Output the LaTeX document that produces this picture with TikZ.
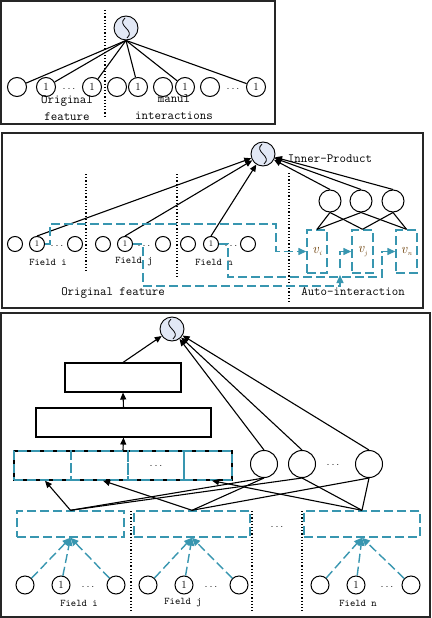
\documentclass[tikz,border=0pt]{standalone}
\usepackage{fontspec}
\usetikzlibrary{arrows.meta}
\definecolor{tealc}{RGB}{56,150,176}
\definecolor{outfill}{RGB}{226,232,245}
\definecolor{vcol}{RGB}{110,65,10}
\newcommand{\vlab}[1]{\textit{v}\raisebox{-2.5bp}{\fontsize{6.5}{7}\selectfont\textit{#1}}}
\tikzset{
  ln/.style={line width=1.1bp, draw=black},
  arr/.style={ln, -{Triangle[length=7bp,width=6bp]}},
  tdash/.style={draw=tealc, line width=1.4bp, dash pattern=on 9bp off 4bp},
  tarr/.style={tdash, -{Triangle[length=8bp,width=7bp]}},
  dotline/.style={line width=1.3bp, dash pattern=on 1.2bp off 2bp},
  panel/.style={line width=1.4bp, draw=black!85},
  cir/.style={circle, draw, line width=1bp, inner sep=0pt, minimum size=#1, font=\fontsize{11}{12}\rmfamily},
  scir/.style={circle, draw, line width=1bp, inner sep=0pt, minimum size=15bp, font=\fontsize{8.5}{9}\rmfamily},
  outnode/.style={circle, draw, fill=outfill, line width=0.9bp, inner sep=0pt, minimum size=24bp,
    path picture={\draw[line width=0.8bp] ([shift={(-1bp,10bp)}]path picture bounding box.center)
      .. controls +(-9bp,-8bp) and +(9bp,8bp) .. ([shift={(1bp,-10bp)}]path picture bounding box.center);}},
  lbl/.style={font=\fontsize{12.6}{13}\ttfamily, inner sep=0pt},
  flbl/.style={font=\fontsize{10.2}{11}\ttfamily, inner sep=0pt},
  dts/.style={font=\fontsize{11}{12}\rmfamily, inner sep=0pt},
  tbox/.style={draw=tealc, line width=1.4bp, dash pattern=on 9bp off 4bp, rectangle, inner sep=0pt},
  vbox/.style={tbox, minimum height=43bp, text=vcol, font=\fontsize{14}{15}\rmfamily},
  bbox/.style={draw=black, line width=1.1bp, rectangle, inner sep=0pt},
}
\begin{document}
\begin{tikzpicture}[x=1bp,y=-1bp]
\path[use as bounding box, fill=white] (0,0) rectangle (431,618);

% ---------------- Panel 1 ----------------
\draw[panel] (1,1) rectangle (275,124);
\draw[dotline] (105,10) -- (105,117);
\node[outnode] (o1) at (126,28) {};
\node[cir=19bp] (p1) at (17,87) {};
\node[cir=19bp] (p2) at (46,87) {1};
\node[dts] (pd1) at (69,89) {.\,.\,.};
\node[cir=19bp] (p3) at (92,87) {1};
\node[cir=19bp] (p4) at (117,87) {};
\node[cir=19bp] (p5) at (138,87) {1};
\node[cir=19bp] (p6) at (163,87) {};
\node[cir=19bp] (p7) at (185,87) {1};
\node[cir=19bp] (p8) at (210,87) {};
\node[dts] (pd2) at (233,89) {.\,.\,.};
\node[cir=19bp] (p9) at (256,87) {1};
\foreach \t in {p1,p2,p3,p5,p7,p9} \draw[ln] (o1.south) -- (\t);
\node[lbl] (t1a) at (67,101) {Original};
\node[lbl] (t1b) at (67,117) {feature};
\node[lbl] (t1c) at (174,99) {manul};
\node[lbl] (t1d) at (174,116) {interactions};

% ---------------- Panel 2 ----------------
\draw[panel] (2,133) rectangle (423,308);
\draw[dotline] (86,174) -- (86,273);
\draw[dotline] (177,174) -- (177,277);
\draw[dotline] (289,173) -- (289,302);
\node[outnode] (ip) at (263,154) {};
\node[lbl] (iplbl) at (330,159) {Inner-Product};
\node[scir] (q1) at (15,244) {};
\node[scir] (q2) at (37,244) {1};
\node[dts] (qd1) at (57,246) {.\,.\,.};
\node[scir] (q3) at (75,244) {};
\node[scir] (q4) at (103,244) {};
\node[scir] (q5) at (125,244) {1};
\node[dts] (qd2) at (144,246) {.\,.\,.};
\node[scir] (q6) at (163,244) {};
\node[scir] (q7) at (188,244) {};
\node[scir] (q8) at (211,244) {1};
\node[dts] (qd3) at (231,246) {.\,.\,.};
\node[scir] (q9) at (248,244) {};
\node[flbl] (fl1) at (48,262) {Field i};
\node[flbl] (fl2) at (134,262) {Field j};
\node[flbl] (fl3) at (214,262) {Field n};
\node[lbl] (of2) at (113,293) {Original feature};
\node[lbl] (ai2) at (353,292) {Auto-interaction};
\node[cir=22bp] (t1) at (330,201) {};
\node[cir=22bp] (t2) at (361,201) {};
\node[cir=22bp] (t3) at (393,201) {};
\node[vbox, minimum width=20bp] (v1) at (317,251.5) {\vlab{i}};
\node[vbox, minimum width=21bp] (v2) at (362.5,251.5) {\vlab{j}};
\node[vbox, minimum width=21bp] (v3) at (406.5,251.5) {\vlab{n}};
\draw[ln] (t1.south) -- (v1.north);
\draw[ln] (t1.south) -- (v2.north);
\draw[ln] (t2.south) -- (v1.north);
\draw[ln] (t2.south) -- (v3.north);
\draw[ln] (t3.south) -- (v2.north);
\draw[ln] (t3.south) -- (v3.north);
\foreach \s in {q2,q5,q8,t1,t2,t3} \draw[arr] (\s.north) -- (ip);
% teal routes
\draw[tarr] (q2.east) -- (50,244) |- (276,224) |- (v1.west);
\coordinate (pa) at (340,275);
\coordinate (pb) at (340,268);
\draw[tarr] (q5.east) -- (143,244) |- (340,286) -- (pa);
\draw[tarr] (pb) |- (v2.west);
\draw[tarr] (q8.east) -- (228,244) |- (382,277) |- (v3.west);

% ---------------- Panel 3 ----------------
\draw[panel] (1,313) rectangle (430,617);
\node[outnode] (o3) at (172,329) {};
\node[bbox, minimum width=116bp, minimum height=29bp] (h2) at (123,377.5) {};
\node[bbox, minimum width=175bp, minimum height=29bp] (h1) at (123.5,422.5) {};
\node[bbox, minimum width=218bp, minimum height=29bp] (cat) at (123,465.5) {};
\node[tbox, minimum width=57bp, minimum height=29bp] (k1) at (42.5,465.5) {};
\node[tbox, minimum width=57bp, minimum height=29bp] (k2) at (99.5,465.5) {};
\node[tbox, minimum width=56bp, minimum height=29bp, font=\fontsize{11}{12}\rmfamily] (k3) at (156,465.5) {.\,.\,.};
\node[tbox, minimum width=48bp, minimum height=29bp] (k4) at (208,465.5) {};
\draw[arr] (cat.north) -- (h1.south);
\draw[arr] (h1.north) -- (h2.south);
\draw[arr] (h2.north) -- (o3);
\node[cir=27bp] (c1) at (264,464) {};
\node[cir=27bp] (c2) at (302,464) {};
\node[dts] (cd) at (333,465) {.\,.\,.};
\node[cir=27bp] (c3) at (369,464) {};
\foreach \s in {c1,c2,c3} \draw[arr] (\s.north) -- (o3);
\node[tbox, minimum width=107bp, minimum height=26bp] (e1) at (70.5,524) {};
\node[tbox, minimum width=116bp, minimum height=26bp] (e2) at (192,524) {};
\node[tbox, minimum width=116bp, minimum height=26bp] (e3) at (362,524) {};
\node[dts] (ed) at (277,527) {.\,.\,.};
\draw[arr] (e1.north) -- ([xshift=2.5bp]k1.south);
\draw[arr] (e2.north) -- ([xshift=3.5bp]k2.south);
\draw[arr] (e3.north) -- ([xshift=4bp]k4.south);
\draw[ln] (e1.north) -- (c1.south);
\draw[ln] (e1.north) -- (c2.south);
\draw[ln] (e2.north) -- (c1.south);
\draw[ln] (e2.north) -- (c3.south);
\draw[ln] (e3.north) -- (c2.south);
\draw[ln] (e3.north) -- (c3.south);
\draw[dotline] (131,511) -- (131,613);
\draw[dotline] (252,511) -- (252,613);
\draw[dotline] (302,511) -- (302,613);
% fields
\node[cir=18bp] (r1) at (25,585) {};
\node[cir=18bp] (r2) at (61,585) {1};
\node[dts] (rd1) at (88,587) {.\,.\,.};
\node[cir=18bp] (r3) at (116,585) {};
\node[cir=18bp] (r4) at (148,585) {};
\node[cir=18bp] (r5) at (184,585) {1};
\node[dts] (rd2) at (211,587) {.\,.\,.};
\node[cir=18bp] (r6) at (239,585) {};
\node[cir=18bp] (r7) at (320,585) {};
\node[cir=18bp] (r8) at (356,585) {1};
\node[dts] (rd3) at (387,587) {.\,.\,.};
\node[cir=18bp] (r9) at (411,585) {};
\foreach \s in {r1,r2,r3} \draw[tarr] (\s) -- (e1.south);
\foreach \s in {r4,r5,r6} \draw[tarr] (\s) -- (e2.south);
\foreach \s in {r7,r8,r9} \draw[tarr] (\s) -- (e3.south);
\node[flbl] (g1) at (79,603) {Field i};
\node[flbl] (g2) at (183,603) {Field j};
\node[flbl] (g3) at (358,603) {Field n};
\end{tikzpicture}
\end{document}
